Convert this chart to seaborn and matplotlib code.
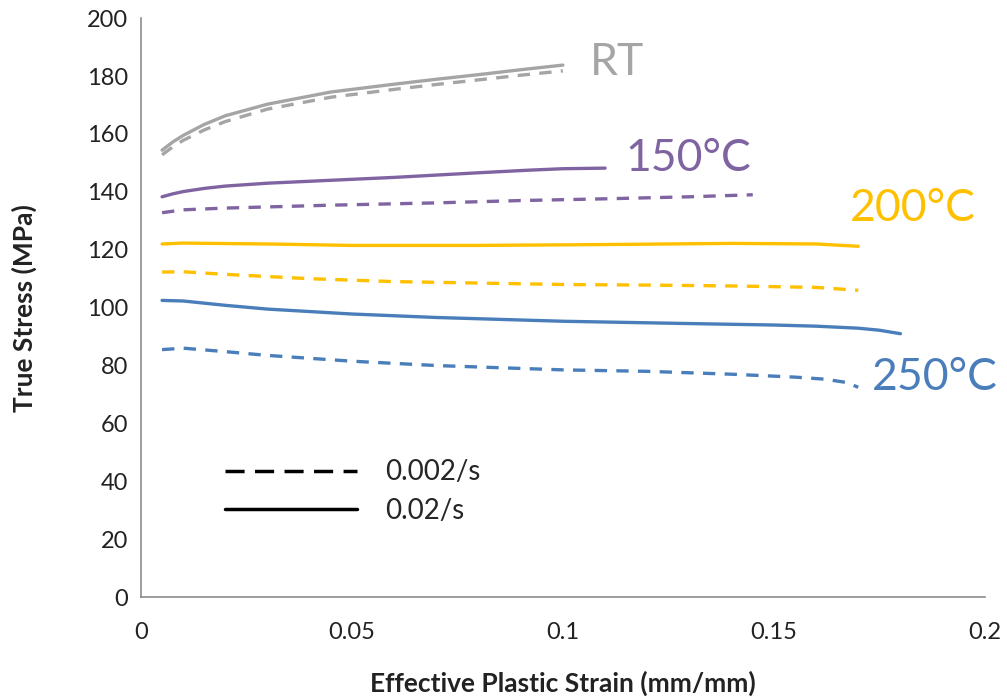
import seaborn as sns
import matplotlib.pyplot as plt
from matplotlib.lines import Line2D
import pandas as pd

# values
rt_fast_x = [0.005, 0.0075, 0.01, 0.015, 0.02, 0.03, 0.045, 0.06, 0.07, 0.08, 0.09, 0.1]
rt_fast_y = [154.4, 157.2, 159.5, 163.3, 166.3, 170.3, 174.5, 177.2, 178.9, 180.5, 182.2, 183.8]
rt_slow_x = [0.005, 0.0075, 0.01, 0.015, 0.02, 0.03, 0.045, 0.06, 0.07, 0.08, 0.09, 0.1]
rt_slow_y = [152.8, 155.5, 157.8, 161.4, 164.3, 168.6, 172.7, 175.4, 177.1, 178.7, 180.3, 181.8]

t150_fast_x = [0.005, 0.0075, 0.01, 0.015, 0.02, 0.03, 0.045, 0.06, 0.07, 0.08, 0.092, 0.1, 0.11]
t150_fast_y = [138.3, 139.3, 140.1, 141.2, 142.0, 143.0, 144.0, 145.0, 145.8, 146.6, 147.5, 148.0, 148.2]
t150_slow_x = [0.005, 0.01, 0.02, 0.045, 0.07, 0.09, 0.11, 0.13, 0.145]
t150_slow_y = [132.8, 133.8, 134.4, 135.4, 136.2, 137.0, 137.6, 138.3, 139.0]

t200_fast_x = [0.005, 0.01, 0.03, 0.05, 0.08, 0.11, 0.14, 0.16, 0.17]
t200_fast_y = [122.0, 122.3, 122.0, 121.5, 121.5, 121.8, 122.2, 122.0, 121.2]
t200_slow_x = [0.005, 0.01, 0.02, 0.04, 0.06, 0.08, 0.1, 0.12, 0.14, 0.16, 0.17]
t200_slow_y = [112.3, 112.4, 111.5, 110.0, 109.0, 108.5, 108.0, 107.8, 107.5, 107.0, 106.0]

t250_fast_x = [0.005, 0.01, 0.02, 0.03, 0.05, 0.07, 0.1, 0.13, 0.15, 0.16, 0.17, 0.175, 0.18]
t250_fast_y = [102.5, 102.3, 100.8, 99.5, 97.8, 96.6, 95.3, 94.5, 94.0, 93.6, 92.9, 92.2, 91.0]
t250_slow_x = [0.005, 0.01, 0.02, 0.03, 0.05, 0.07, 0.1, 0.12, 0.14, 0.155, 0.162, 0.167, 0.17]
t250_slow_y = [85.5, 86.0, 84.8, 83.5, 81.5, 80.0, 78.5, 78.0, 77.0, 76.0, 75.3, 74.2, 72.5]

temps = ['RT', '150°C', '200°C', '250°C']
rates = ['0.002/s', '0.02/s']
colors = ['#a5a5a5', '#8064a2', '#ffc000', '#4a7ebb']
# label anchor (strain, stress) for each temperature
label_x = [0.1064, 0.1147, 0.168, 0.1732]
label_y = [184.8, 151.6, 134.4, 76.0]

series = [
    ('RT', '0.02/s', rt_fast_x, rt_fast_y),
    ('RT', '0.002/s', rt_slow_x, rt_slow_y),
    ('150°C', '0.02/s', t150_fast_x, t150_fast_y),
    ('150°C', '0.002/s', t150_slow_x, t150_slow_y),
    ('200°C', '0.02/s', t200_fast_x, t200_fast_y),
    ('200°C', '0.002/s', t200_slow_x, t200_slow_y),
    ('250°C', '0.02/s', t250_fast_x, t250_fast_y),
    ('250°C', '0.002/s', t250_slow_x, t250_slow_y),
]
rows = []
for temp, rate, xs, ys in series:
    for x, y in zip(xs, ys):
        rows.append({'strain': x, 'stress': y, 'temp': temp, 'rate': rate})
df = pd.DataFrame(rows)

sns.set_style('white')
plt.rcParams['font.family'] = ['Lato', 'DejaVu Sans']

fig = plt.figure(figsize=(10.07, 7), dpi=100)
ax = fig.add_axes([0.14, 0.147, 0.838, 0.827])

sns.lineplot(data=df, x='strain', y='stress', hue='temp', style='rate',
             hue_order=temps, style_order=rates,
             palette=dict(zip(temps, colors)),
             dashes={'0.002/s': (3.7, 2.8), '0.02/s': ''},
             estimator=None, sort=False, linewidth=2.4, legend=False, ax=ax)

for t, c, lx, ly in zip(temps, colors, label_x, label_y):
    ax.text(lx, ly, t, color=c, fontsize=32, va='center', ha='left')

ax.set_xlim(0, 0.2)
ax.set_ylim(0, 200)
ax.set_xticks([0, 0.05, 0.1, 0.15, 0.2])
ax.set_xticklabels(['0', '0.05', '0.1', '0.15', '0.2'])
ax.set_yticks(range(0, 201, 20))

for s in ['top', 'right']:
    ax.spines[s].set_visible(False)
for s in ['left', 'bottom']:
    ax.spines[s].set_color('#8c8c8c')
    ax.spines[s].set_linewidth(1.2)
ax.tick_params(axis='both', direction='out', length=6, width=1.2,
               color='#8c8c8c', labelsize=17, labelcolor='#222222')
ax.tick_params(axis='x', pad=12)

ax.set_xlabel('Effective Plastic Strain (mm/mm)', fontsize=19, fontweight='bold',
              color='#222222', labelpad=20)
ax.set_ylabel('True Stress (MPa)', fontsize=19, fontweight='bold',
              color='#222222', labelpad=36)

handles = [Line2D([], [], color='black', lw=2.5, dashes=(5.5, 3.0)),
           Line2D([], [], color='black', lw=2.5)]
ax.legend(handles, rates, loc='upper left', bbox_to_anchor=(0.0865, 0.257),
          borderaxespad=0, frameon=False, fontsize=20, handlelength=4.75,
          handletextpad=1.0, labelspacing=0.45)

fig.savefig('out.png', dpi=100)
